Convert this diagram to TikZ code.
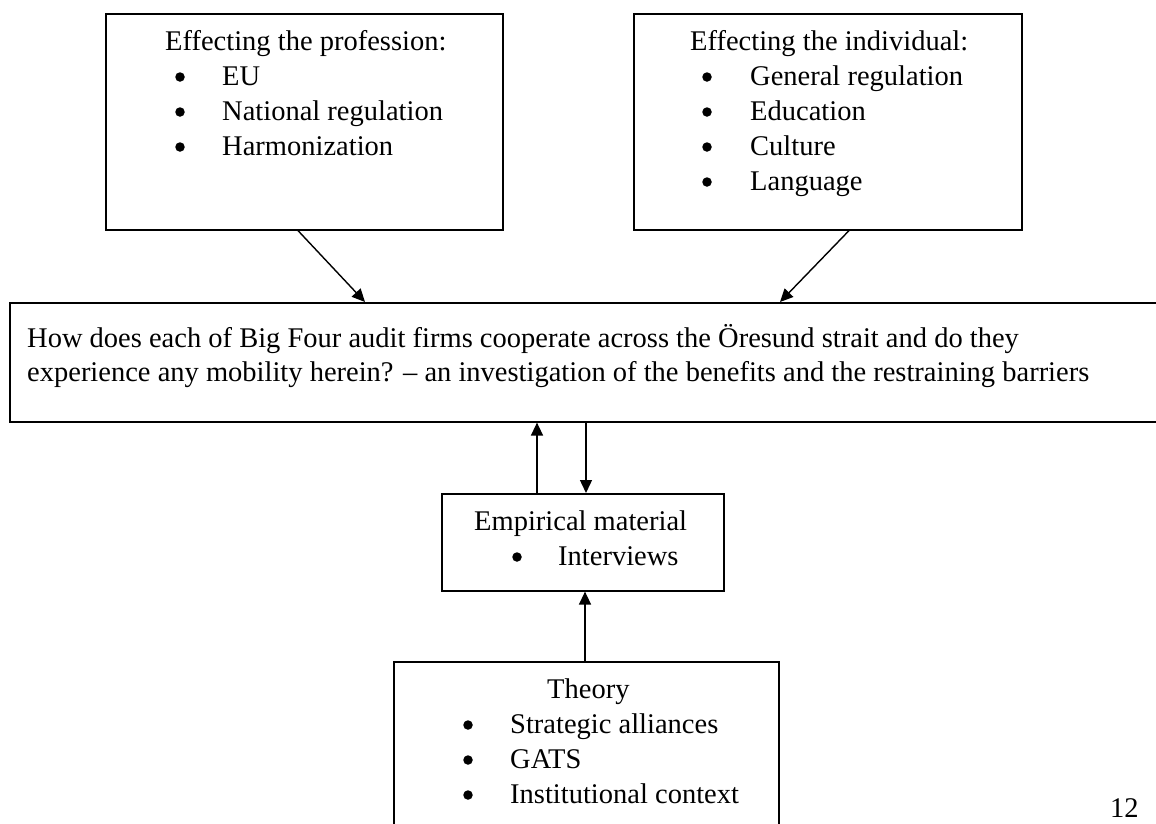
\documentclass[tikz,border=0pt]{standalone}
\usepackage{fontspec}
\setmainfont{Liberation Serif}
\usetikzlibrary{arrows.meta,calc}
\begin{document}
\begin{tikzpicture}[x=1pt,y=-1pt,
  font=\fontsize{28.5}{35}\selectfont,
  box/.style={draw, line width=1.6pt, anchor=north west, inner sep=0pt},
  txt/.style={anchor=base west, inner sep=0pt},
  dot/.style={circle, fill, inner sep=0pt, minimum size=9.5pt},
  arr/.style={line width=1.4pt, -{Triangle[length=13pt,width=12pt]}}]
\useasboundingbox (0,0) rectangle (1156,823);
\clip (0,0) rectangle (1156,823);
% boxes
\node[box, minimum width=397pt, minimum height=216pt] (prof) at (105,13) {};
\node[box, minimum width=388pt, minimum height=216pt] (indiv) at (633,13) {};
\node[box, minimum width=1170pt, minimum height=119pt] (question) at (9,302) {};
\node[box, minimum width=282pt, minimum height=97pt] (emp) at (441,493) {};
\node[box, minimum width=385pt, minimum height=200pt] (theory) at (393,661) {};
% profession
\node[txt] (profT) at (165,50) {Effecting the profession:};
\node[dot] (pb1) at (180,77) {};  \node[txt] (p1) at (222,85) {EU};
\node[dot] (pb2) at (180,112) {}; \node[txt] (p2) at (222,120) {National regulation};
\node[dot] (pb3) at (180,147) {}; \node[txt] (p3) at (222,155) {Harmonization};
% individual
\node[txt] (indT) at (690,50) {Effecting the individual:};
\node[dot] (ib1) at (707,77) {};  \node[txt] (i1) at (750,85) {General regulation};
\node[dot] (ib2) at (707,112) {}; \node[txt] (i2) at (750,120) {Education};
\node[dot] (ib3) at (707,147) {}; \node[txt] (i3) at (750,155) {Culture};
\node[dot] (ib4) at (707,182) {}; \node[txt] (i4) at (750,190) {Language};
% question
\node[txt] (q1) at (27,347) {How does each of Big Four audit firms cooperate across the Öresund strait and do they};
\node[txt] (q2) at (27,381) {experience any mobility herein? – an investigation of the benefits and the restraining barriers};
% empirical
\node[txt] (empT) at (474,530) {Empirical material};
\node[dot] (eb1) at (517,557) {}; \node[txt] (e1) at (558,565) {Interviews};
% theory
\node[txt] (thT) at (547,698) {Theory};
\node[dot] (tb1) at (468,725) {}; \node[txt] (t1) at (510,733) {Strategic alliances};
\node[dot] (tb2) at (468,760) {}; \node[txt] (t2) at (510,768) {GATS};
\node[dot] (tb3) at (468,795) {}; \node[txt] (t3) at (510,803) {Institutional context};
% page number
\node[txt] (page) at (1110,817) {12};
% connectors
\draw[arr] ($(prof.south west)+(193,0)$) -- ($(question.north west)+(356,0)$);
\draw[arr] ($(indiv.south west)+(216,0)$) -- ($(question.north west)+(771,0)$);
\draw[arr] ($(emp.north west)+(96,0)$) -- ($(question.south west)+(528,0)$);
\draw[arr] ($(question.south west)+(577,0)$) -- ($(emp.north west)+(145,0)$);
\draw[arr] ($(theory.north west)+(192,0)$) -- ($(emp.south west)+(144,0)$);
\end{tikzpicture}
\end{document}
